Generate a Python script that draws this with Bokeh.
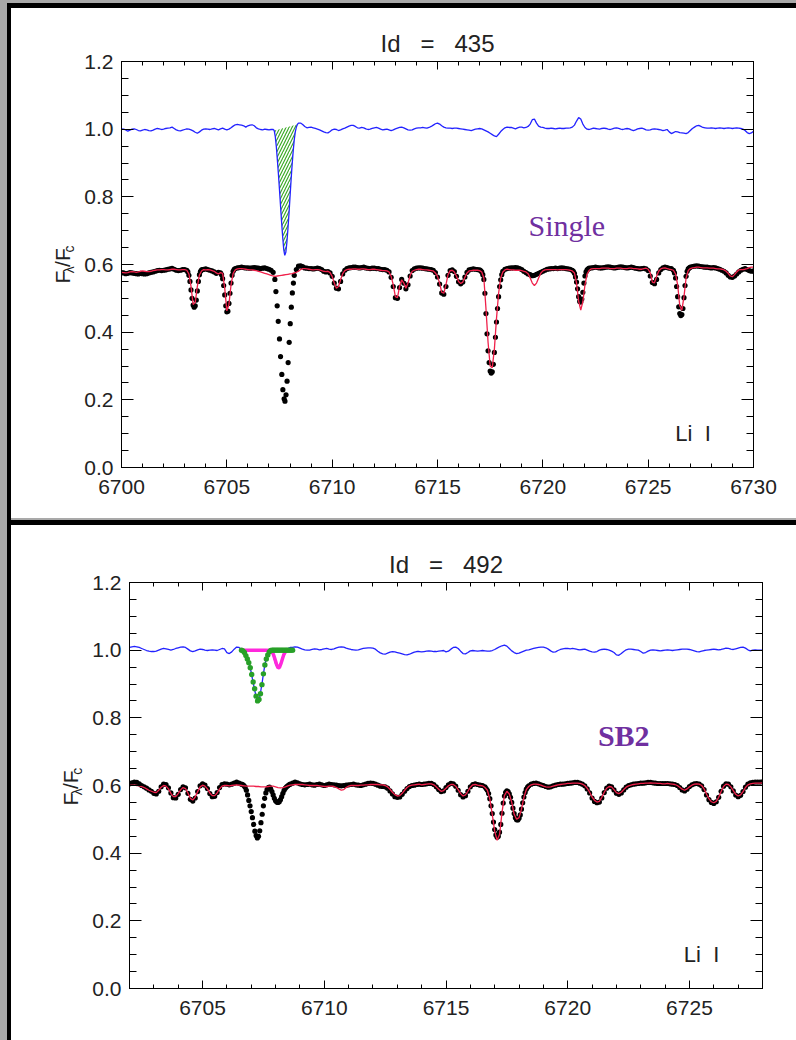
import numpy as np
from bokeh.plotting import figure
from bokeh.models import (Range1d, FixedTicker, LinearAxis, PrintfTickFormatter,
                          CustomJSTickFormatter, Label, Div)
from bokeh.layouts import row, column
from bokeh.embed import file_html
from bokeh.resources import INLINE

# ===================== DATA =====================
# ---------- Panel 1 : Id = 435 ----------
TOP_TITLE = "Id \u00a0\u00a0=\u00a0\u00a0 435"
TOP_CLASS = "Single"
TOP_XLIM = (6700.0, 6730.0)
TOP_XTICKS = [6700, 6705, 6710, 6715, 6720, 6725, 6730]

# synthetic template (red), 0.1 A sampling 6700.0 .. 6730.0
top_model = [
    0.577,0.576,0.575,0.576,0.578,0.579,0.578,0.577,0.578,0.580,
    0.581,0.580,0.579,0.579,0.580,0.582,0.583,0.584,0.584,0.585,
    0.585,0.584,0.584,0.585,0.586,0.586,0.585,0.584,0.584,0.585,
    0.585,0.583,0.572,0.535,0.482,0.488,0.535,0.569,0.581,0.585,
    0.584,0.585,0.584,0.582,0.580,0.575,0.572,0.576,0.574,0.530,
    0.463,0.482,0.540,0.574,0.584,0.587,0.588,0.588,0.587,0.586,
    0.585,0.584,0.584,0.583,0.582,0.580,0.578,0.576,0.574,0.572,
    0.570,0.568,0.566,0.565,0.566,0.567,0.568,0.569,0.570,0.571,
    0.572,0.573,0.575,0.577,0.580,0.585,0.588,0.588,0.587,0.586,
    0.585,0.584,0.585,0.585,0.584,0.582,0.580,0.579,0.580,0.576,
    0.565,0.545,0.530,0.535,0.555,0.573,0.582,0.585,0.586,0.586,
    0.587,0.587,0.586,0.586,0.587,0.587,0.586,0.585,0.585,0.586,
    0.586,0.585,0.584,0.583,0.582,0.582,0.581,0.578,0.565,0.540,
    0.505,0.502,0.535,0.555,0.545,0.530,0.545,0.568,0.580,0.583,
    0.585,0.586,0.586,0.585,0.584,0.584,0.583,0.582,0.581,0.575,
    0.565,0.545,0.518,0.515,0.540,0.570,0.582,0.583,0.578,0.565,
    0.550,0.544,0.548,0.562,0.575,0.581,0.582,0.583,0.583,0.583,
    0.582,0.578,0.560,0.470,0.370,0.300,0.295,0.350,0.440,0.515,
    0.560,0.578,0.584,0.586,0.585,0.584,0.584,0.583,0.583,0.583,
    0.582,0.580,0.578,0.573,0.560,0.545,0.538,0.545,0.560,0.574,
    0.581,0.584,0.585,0.585,0.585,0.585,0.585,0.584,0.585,0.585,
    0.585,0.585,0.584,0.583,0.581,0.575,0.545,0.492,0.465,0.490,
    0.540,0.572,0.583,0.587,0.588,0.588,0.588,0.588,0.589,0.589,
    0.589,0.589,0.588,0.588,0.588,0.589,0.589,0.589,0.588,0.588,
    0.588,0.589,0.589,0.588,0.588,0.587,0.586,0.586,0.588,0.589,
    0.586,0.575,0.548,0.546,0.565,0.580,0.587,0.589,0.590,0.588,
    0.586,0.585,0.583,0.572,0.540,0.478,0.465,0.505,0.560,0.582,
    0.588,0.590,0.591,0.592,0.592,0.591,0.590,0.590,0.590,0.589,
    0.589,0.589,0.588,0.587,0.587,0.586,0.584,0.580,0.574,0.566,
    0.564,0.570,0.578,0.584,0.585,0.585,0.586,0.588,0.591,0.592,
    0.592]

# observed spectrum (black dots), pieces with their own sampling
top_obs_a = [0.576,0.575,0.573,0.574,0.576,0.575,0.574,0.573,0.572,0.574,
             0.573,0.572,0.573,0.575,0.577,0.578,0.580,0.582,0.583,0.582,
             0.583,0.584,0.586,0.587,0.589,0.586,0.583,0.582,0.583,0.585,
             0.585,0.583]                                   # 6700.0-6703.1
top_obs_b = [0.578,0.568,0.550,0.525,0.500,0.480,0.474,0.478,0.495,0.522,
             0.550,0.570,0.580,0.584,0.585]                 # 6703.15-6703.85
top_obs_c = [0.586,0.587,0.585,0.583,0.581,0.578,0.574,0.577,0.575]  # 6703.9-6704.7
top_obs_d = [0.570,0.558,0.538,0.510,0.478,0.460,0.462,0.485,0.515,0.545,
             0.568,0.580,0.586]                             # 6704.75-6705.35
top_obs_e = [0.588,0.590,0.591,0.592,0.591,0.590,0.590,0.589,0.590,0.591,
             0.590,0.589,0.588,0.589,0.590,0.588,0.586,0.583,0.577]  # 6705.4-6707.2
top_li_wl = [6707.28,6707.33,6707.39,6707.44,6707.50,6707.55,6707.61,6707.66,6707.72,
             6707.76,6707.81,6707.86,6707.91,6707.96,6708.01,6708.06,6708.11,6708.16]
top_li_obs = [0.556,0.520,0.478,0.432,0.380,0.328,0.275,0.230,0.203,
              0.196,0.215,0.255,0.310,0.370,0.425,0.474,0.516,0.545]
top_obs_g = [0.568,0.585,0.595,0.596,0.594,0.590,0.589,0.588,
             0.588,0.587,0.588,0.589,0.588,0.585,0.580,0.578,0.579,0.575,
             0.565,0.545,0.530,0.528,0.550,0.572,0.583,0.588,0.590,0.591,
             0.592,0.592,0.591,0.590,0.591,0.592,0.590,0.589,0.588,0.589,
             0.589,0.588,0.588,0.586,0.585,0.585,0.583,0.578,0.562,0.535,
             0.502,0.500,0.532,0.556,0.545,0.528,0.540,0.566,0.582,0.587,
             0.589,0.590,0.590,0.589,0.588,0.587,0.586,0.585,0.583,0.576,
             0.563,0.542,0.516,0.512,0.535,0.568,0.582,0.584,0.579,0.565,
             0.549,0.543,0.548,0.563,0.577,0.584,0.586,0.587,0.586,0.585,
             0.584]                                         # 6708.2-6717.0
top_obs_h = [0.582,0.578,0.570,0.556,0.515,0.455,0.395,0.345,0.310,0.285,
             0.279,0.283,0.305,0.340,0.385,0.430,0.470,0.505,0.535,0.555,
             0.570,0.580]                                   # 6717.05-6718.10
top_obs_i = [0.586,0.588,0.589,0.590,0.590,0.591,0.590,0.588,
             0.585,0.580,0.576,0.572,0.570,0.567,0.568,0.571,0.574,0.577,
             0.580,0.583,0.586,0.587,0.588,0.588,0.589,0.588,0.589,0.590,
             0.589,0.588,0.587,0.586,0.583]                 # 6718.2-6721.4
top_obs_j = [0.580,0.574,0.563,0.548,0.528,0.505,0.491,0.489,0.498,0.518,
             0.545,0.566,0.578,0.584,0.587]                 # 6721.45-6722.15
top_obs_k = [0.589,0.590,0.591,0.592,0.591,0.590,0.590,0.591,
             0.592,0.593,0.592,0.591,0.590,0.591,0.592,0.593,0.592,0.591,
             0.590,0.591,0.592,0.591,0.589,0.588,0.587,0.588,0.589,0.587,
             0.582,0.566,0.547,0.543,0.556,0.575,0.585,0.590,0.592,0.591,
             0.589,0.588,0.583]                             # 6722.2-6726.2
top_obs_l = [0.575,0.560,0.535,0.505,0.475,0.455,0.449,0.452,0.470,0.502,
             0.538,0.565,0.580,0.587,0.590]                 # 6726.25-6726.95
top_obs_m = [0.592,0.594,0.595,0.596,0.595,0.594,0.593,0.592,0.592,0.591,
             0.590,0.591,0.590,0.588,0.586,0.583,0.580,0.575,0.568,0.563,
             0.562,0.566,0.572,0.578,0.583,0.586,0.588,0.585,0.582,0.580,
             0.581]                                         # 6727.0-6730.0

# residual spectrum (blue), observed - template + 1
top_diff_a = [1.001,1.000,0.998,0.994,0.997,1.000,1.001,0.999,0.996,0.995,
              0.997,0.999,0.998,0.996,0.995,0.997,1.000,1.002,1.001,0.999,
              1.000,1.002,1.003,1.004,1.006,1.002,0.998,0.996,0.995,0.997,
              0.999,1.001,1.000,0.998,0.995,0.991,0.988,0.992,0.997,1.000,
              1.001,1.000,0.999,1.001,1.002,1.000,0.998,1.001,1.003,1.000,
              0.998,1.000,1.004,1.009,1.013,1.014,1.013,1.012,1.010,1.006,
              1.010,1.012,1.013,1.010,1.004,1.001,0.999,0.998,1.000,0.999,
              0.998,0.999]                                  # 6700.0-6707.1
top_diff_li = [0.999,0.996,0.978,0.948,0.908,0.866,0.820,0.772,0.725,0.682,
               0.645,0.627,0.636,0.665,0.705,0.750,0.800,0.850,0.895,0.935,
               0.968,0.992,1.006,1.014,1.018]               # 6707.20-6708.40
top_diff_b = [1.018,1.014,1.008,1.004,1.005,
              1.006,1.004,1.002,1.000,0.998,0.995,0.992,0.990,0.989,0.993,
              0.998,1.000,0.999,0.996,0.998,1.001,1.003,1.006,1.009,1.011,
              1.011,1.008,1.004,1.003,1.005,1.004,1.001,0.999,1.000,1.002,
              1.004,1.005,1.003,1.000,0.998,0.999,1.000,0.998,0.996,0.998,
              1.001,1.003,1.005,1.006,1.004,1.001,0.998,0.997,0.998,1.001,
              1.003,1.004,1.004,1.005,1.004,1.003,1.005,1.008,1.012,1.016,
              1.018,1.015,1.010,1.006,1.004,1.003,1.003,1.002,1.003,1.003,
              1.002,1.001,1.000,0.999,0.998,0.997,0.996,0.998,1.000,1.001,
              1.002,1.001,0.998,0.995,0.992,0.988,0.984,0.980,0.978,0.985,
              0.993,0.999,1.004,1.006,1.005,1.005,1.003,1.001,1.004,1.006,
              1.006,1.004,1.005,1.008,1.015,1.028,1.030,1.018,1.009,1.006,
              1.005,1.003,1.002,1.002,1.003,1.002,1.001,1.002,1.003,1.002,
              1.002,1.003,1.003,1.004,1.006,1.012,1.024,1.034,1.030,1.015,
              1.005,1.000,0.999,1.001,1.003,1.002,1.001,1.000,1.002,1.003,
              1.002,1.000,0.999,1.001,1.003,1.004,1.002,1.000,0.999,1.001,
              1.002,1.001,0.998,0.996,0.998,1.001,1.002,1.003,1.001,0.998,
              0.997,0.998,1.000,1.001,1.000,0.999,0.998,0.996,0.997,0.999,
              0.992,0.987,0.990,0.993,0.992,0.990,0.989,0.988,0.987,0.990,
              0.996,1.002,1.006,1.010,1.011,1.008,1.005,1.004,1.003,1.003,
              1.004,1.003,1.002,1.003,1.004,1.003,1.002,1.003,1.004,1.003,
              1.002,1.003,1.004,1.003,1.002,1.000,0.996,0.990,0.987,0.989,
              0.994]                                        # 6708.5-6730.0
TOP_HATCH = (6707.24, 6708.36)   # Li I equivalent-width area

# ---------- Panel 2 : Id = 492 ----------
BOT_TITLE = "Id \u00a0\u00a0=\u00a0\u00a0 492"
BOT_CLASS = "SB2"
BOT_XLIM = (6702.0, 6728.0)
BOT_XTICKS = [6705, 6710, 6715, 6720, 6725]

bot_model = [
    0.600,0.601,0.601,0.600,0.599,0.597,0.594,0.590,0.586,0.583,
    0.580,0.579,0.586,0.595,0.600,0.598,0.590,0.577,0.567,0.567,
    0.576,0.587,0.594,0.591,0.578,0.562,0.557,0.566,0.582,0.596,
    0.601,0.598,0.590,0.578,0.570,0.570,0.578,0.590,0.598,0.600,
    0.600,0.599,0.600,0.601,0.602,0.601,0.600,0.599,0.598,0.598,
    0.598,0.598,0.597,0.597,0.596,0.596,0.596,0.597,0.598,0.598,
    0.596,0.594,0.593,0.594,0.596,0.599,0.601,0.602,0.603,0.603,
    0.603,0.603,0.602,0.601,0.600,0.600,0.600,0.600,0.599,0.598,
    0.597,0.597,0.598,0.598,0.597,0.594,0.590,0.586,0.588,0.594,
    0.598,0.600,0.600,0.600,0.600,0.601,0.601,0.602,0.602,0.603,
    0.603,0.603,0.603,0.602,0.602,0.600,0.596,0.589,0.580,0.573,
    0.569,0.570,0.577,0.586,0.594,0.599,0.601,0.602,0.603,0.604,
    0.602,0.603,0.604,0.605,0.605,0.602,0.596,0.589,0.583,0.585,
    0.592,0.599,0.603,0.603,0.598,0.588,0.576,0.569,0.572,0.583,
    0.595,0.602,0.603,0.601,0.600,0.599,0.594,0.586,0.560,0.515,
    0.465,0.438,0.455,0.520,0.570,0.583,0.575,0.550,0.515,0.500,
    0.505,0.530,0.565,0.588,0.597,0.602,0.604,0.604,0.603,0.601,
    0.598,0.596,0.595,0.596,0.598,0.600,0.602,0.603,0.604,0.605,
    0.606,0.606,0.607,0.607,0.607,0.606,0.604,0.600,0.592,0.580,
    0.566,0.556,0.551,0.553,0.565,0.580,0.592,0.597,0.596,0.588,
    0.579,0.576,0.580,0.588,0.595,0.599,0.601,0.603,0.604,0.605,
    0.606,0.606,0.607,0.607,0.608,0.607,0.607,0.606,0.606,0.605,
    0.605,0.606,0.605,0.604,0.603,0.600,0.595,0.589,0.586,0.590,
    0.596,0.601,0.604,0.605,0.604,0.600,0.590,0.575,0.561,0.552,
    0.549,0.553,0.565,0.582,0.597,0.604,0.603,0.596,0.585,0.574,
    0.569,0.572,0.582,0.594,0.602,0.605,0.606,0.607,0.607,0.607,
    0.608]                                                  # 6702.0-6728.0

bot_obs_a = [0.605,0.608,0.610,0.609,0.605,0.600,0.596,0.592,0.587,0.583,
             0.577,0.575,0.583,0.596,0.604,0.603,0.593,0.578,0.564,0.563,
             0.574,0.588,0.596,0.593,0.577,0.559,0.554,0.563,0.582,0.599,
             0.605,0.601,0.591,0.576,0.567,0.568,0.579,0.594,0.603,0.605,
             0.604,0.602,0.604,0.607,0.610,0.607,0.604]     # 6702.0-6706.6
bot_obs_b = [0.603,0.600,0.595,0.586,0.572,0.556,0.540,0.523,0.505,0.485,
             0.465,0.452,0.445,0.450,0.466,0.490,0.515,0.540,0.562,0.578,
             0.588,0.594,0.595,0.590,0.582,0.572,0.562,0.555,0.551,0.550,
             0.552,0.558,0.567,0.577,0.586,0.592,0.596,0.599,0.602,0.604]  # 6706.65-6708.60
bot_obs_c = [0.607,0.610,0.608,
             0.605,0.603,0.602,0.603,0.604,0.602,0.601,0.603,0.604,0.602,
             0.600,0.602,0.604,0.603,0.602,0.601,0.600,0.599,0.600,0.601,
             0.602,0.603,0.604,0.602,0.601,0.600,0.602,0.604,0.606,0.607,
             0.606,0.604,0.601,0.598,0.597,0.596,0.592,0.584,0.575,0.567,
             0.565,0.566,0.574,0.583,0.591,0.597,0.600,0.601,0.603,0.604,
             0.603,0.604,0.605,0.606,0.606,0.603,0.596,0.588,0.582,0.584,
             0.594,0.602,0.606,0.605,0.598,0.586,0.573,0.566,0.570,0.583,
             0.596,0.603,0.605,0.603,0.601,0.600,0.596]     # 6708.7-6716.6
bot_obs_d = [0.591,0.586,0.576,0.561,0.540,0.517,0.492,0.470,0.454,0.447,
             0.450,0.462,0.485,0.518,0.548,0.569,0.580,0.584,0.582,0.575,
             0.565,0.550,0.533,0.517,0.505,0.499,0.498,0.503,0.513,0.530,
             0.549,0.566,0.579,0.589,0.595,0.599]           # 6716.65-6718.40
bot_obs_e = [0.604,0.606,0.607,0.605,0.602,
             0.600,0.597,0.595,0.596,0.599,0.601,0.603,0.604,0.604,0.605,
             0.606,0.607,0.608,0.609,0.609,0.607,0.604,0.599,0.590,0.578,
             0.563,0.553,0.549,0.551,0.563,0.579,0.592,0.598,0.596,0.587,
             0.577,0.574,0.578,0.587,0.595,0.600,0.602,0.604,0.605,0.606,
             0.607,0.607,0.608,0.609,0.609,0.608,0.607,0.606,0.606,0.606,
             0.606,0.606,0.605,0.604,0.603,0.600,0.594,0.587,0.584,0.589,
             0.597,0.602,0.605,0.606,0.604,0.599,0.588,0.572,0.558,0.550,
             0.547,0.552,0.565,0.583,0.598,0.605,0.604,0.596,0.584,0.572,
             0.567,0.571,0.582,0.595,0.604,0.608,0.609,0.610,0.610,0.610,
             0.611]                                         # 6718.5-6728.0

bot_diff_a = [1.008,1.010,1.011,1.010,1.008,1.005,1.002,0.999,0.997,0.996,
              0.996,0.997,1.000,1.003,1.005,1.004,1.002,1.000,1.002,1.005,
              1.007,1.009,1.010,1.008,1.003,0.998,0.996,0.998,1.001,1.003,
              1.002,1.000,0.999,1.000,1.001,1.000,0.999,1.002,1.005,1.004,
              0.993,0.990,0.995,1.003,1.009,1.008,1.002]    # 6702.0-6706.6
bot_diff_li = [0.999,0.996,0.990,0.981,0.972,0.963,0.950,0.934,0.915,0.897,
               0.880,0.862,0.851,0.852,0.862,0.883,0.905,0.930,0.952,0.970,
               0.983,0.992,0.997,0.998,0.994,0.985,0.972,0.960,0.951,0.948,
               0.950,0.958,0.970,0.983,0.993,0.999,1.002,1.004,1.006,1.008]  # 6706.65-6708.60
bot_diff_b = [1.008,1.010,1.009,
              1.006,1.003,1.001,1.000,1.000,1.002,1.004,1.003,1.001,1.002,
              1.004,1.005,1.003,1.002,1.004,1.007,1.009,1.010,1.009,1.006,
              1.004,1.002,1.001,1.000,1.001,1.003,1.005,1.006,1.007,1.007,
              1.006,1.003,0.997,0.992,0.989,0.988,0.991,0.994,0.996,0.995,
              0.993,0.991,0.989,0.987,0.986,0.988,0.991,0.994,0.996,0.996,
              0.995,0.996,0.997,0.998,0.997,0.996,0.996,0.997,0.998,0.999,
              0.995,0.997,1.003,1.008,1.009,1.005,0.997,0.990,0.989,0.993,
              0.998,0.999,0.998,0.997,0.998,0.999,0.998,0.997,0.997,0.999,
              1.002,1.006,1.010,1.013,1.015,1.012,1.005,0.998,0.993,0.990,
              0.991,0.994,0.997,1.000,1.001,1.003,1.005,1.007,1.008,1.009,
              1.009,1.007,1.003,0.998,0.994,0.995,0.999,1.002,1.004,1.005,
              1.005,1.004,1.005,1.004,1.002,1.001,1.002,1.003,1.000,0.997,
              0.995,0.994,0.996,1.000,1.002,1.003,1.002,1.000,0.997,0.993,
              0.986,0.985,0.990,0.996,1.001,1.003,1.003,1.002,1.001,1.000,
              0.996,0.991,0.993,0.997,1.000,1.001,1.000,0.999,0.998,0.999,
              1.000,1.001,1.000,0.999,1.000,1.001,1.002,1.003,1.003,1.003,
              1.002,1.000,0.998,0.996,0.995,0.997,0.999,1.000,1.001,1.002,
              1.003,1.002,1.001,1.002,1.004,1.006,1.005,1.003,1.002,1.004,
              1.006,1.008,1.009,1.006,1.001,0.998,1.000,1.001,1.000,1.000,
              1.000]                                        # 6708.7-6728.0

# two-component Gaussian fit of the Li I line (SB2)
fit1_wl_range = (6706.60, 6708.70)
fit1 = [1.000,0.998,0.993,0.984,0.974,0.963,0.948,0.928,0.906,0.886,
        0.864,0.850,0.854,0.871,0.898,0.930,0.956,0.974,0.986,0.995,
        0.999,1.000,1.000,1.000,1.000,1.000,1.000,1.000,1.000,1.000,
        1.000,1.000,1.000,1.000,1.000,1.000]
fit2_wl = [6706.56,6707.10,6707.60,6707.80,6707.86,6707.92,6707.98,6708.04,6708.10,
           6708.16,6708.22,6708.28,6708.34,6708.40,6708.46,6708.52,6708.68]
fit2 = [1.000,1.000,1.000,0.999,0.995,0.986,0.972,0.958,0.948,
        0.949,0.960,0.974,0.987,0.995,0.999,1.000,1.000]

Y_TICKS = [0.0, 0.2, 0.4, 0.6, 0.8, 1.0, 1.2]
LINE_LABEL = "Li \u00a0I"
YLABEL_BIG = ["F", "/F"]
YLABEL_SUB = ["\u03bb", "c"]

# ===================== STYLE =====================
FONT = "Liberation Sans"
SERIF = "Liberation Serif"
TXT = "#222222"
C_OBS = "#000000"
C_MOD = "#f0204a"
C_RES = "#2222ff"
C_G1 = "#28a028"
C_G2 = "#ff28dc"
C_HATCH = "#3caa28"
C_PURPLE = "#7030a0"
GRAY = "#a9a9a9"
YL_W1 = 68         # width of the strips that carry the y-axis title
YL_W2 = 76


def build(pieces):
    xs, ys = [], []
    for a, b, vals in pieces:
        xs.append(np.linspace(a, b, len(vals)))
        ys.append(np.asarray(vals, dtype=float))
    return np.concatenate(xs), np.concatenate(ys)


def ylabel_strip(width, height, center_from_top, x_big):
    """narrow canvas (1 data unit = 1 px) holding the rotated F_lambda/F_c."""
    q = figure(width=width, height=height, output_backend="svg", toolbar_location=None,
               x_range=Range1d(0, width), y_range=Range1d(0, height),
               min_border=0, min_border_left=0, min_border_right=0,
               min_border_top=0, min_border_bottom=0)
    q.axis.visible = False
    q.grid.visible = False
    q.outline_line_color = None
    q.background_fill_color = "white"
    q.border_fill_color = "white"
    yc = height - center_from_top
    for txt, dy in zip(YLABEL_BIG, (-23, -2)):
        q.add_layout(Label(x=x_big, y=yc + dy, text=txt, angle=90, angle_units="deg",
                           text_font=FONT, text_font_size="21px", text_color=TXT,
                           text_align="left", text_baseline="alphabetic"))
    for txt, dy in zip(YLABEL_SUB, (-10, 16)):
        q.add_layout(Label(x=x_big + 6, y=yc + dy, text=txt, angle=90,
                           angle_units="deg", text_font=FONT, text_font_size="14px",
                           text_color=TXT, text_align="left",
                           text_baseline="alphabetic"))
    return q


def make_panel(width, height, bl, br, bt, bb, xlim, xticks, title, cls, cls_xy, cls_bold,
               li_xy):
    p = figure(width=width, height=height, output_backend="svg", toolbar_location=None,
               x_range=Range1d(*xlim), y_range=Range1d(0.0, 1.2),
               min_border_left=bl, min_border_right=br, min_border_top=bt,
               min_border_bottom=bb, title=title)
    p.title.align = "center"
    p.title.text_font = FONT
    p.title.text_font_size = "24px"
    p.title.text_font_style = "normal"
    p.title.text_color = TXT
    p.title.standoff = 10
    p.background_fill_color = "white"
    p.border_fill_color = "white"
    p.outline_line_color = "black"
    p.xgrid.visible = False
    p.ygrid.visible = False

    x0, x1 = int(round(xlim[0])), int(round(xlim[1]))
    xt = FixedTicker(ticks=xticks, minor_ticks=list(range(x0, x1 + 1)))
    yt = FixedTicker(ticks=Y_TICKS,
                     minor_ticks=[round(0.05 * i, 2) for i in range(0, 25)])
    blank = CustomJSTickFormatter(code="return ''")
    p.add_layout(LinearAxis(ticker=xt, formatter=blank, major_label_standoff=0), "above")
    p.add_layout(LinearAxis(ticker=yt, formatter=blank, major_label_standoff=0), "right")
    p.xaxis.ticker = xt
    p.yaxis.ticker = yt
    for ax in p.xaxis:
        ax.major_tick_in = 8
        ax.major_tick_out = 0
        ax.minor_tick_in = 4
        ax.minor_tick_out = 0
        ax.axis_line_color = "black"
        ax.major_tick_line_color = "black"
        ax.minor_tick_line_color = "black"
    for ax in p.yaxis:
        ax.major_tick_in = 12
        ax.major_tick_out = 0
        ax.minor_tick_in = 7
        ax.minor_tick_out = 0
        ax.axis_line_color = "black"
        ax.major_tick_line_color = "black"
        ax.minor_tick_line_color = "black"
    bx = p.below[0]
    bx.formatter = PrintfTickFormatter(format="%d")
    bx.major_label_text_font = FONT
    bx.major_label_text_font_size = "21px"
    bx.major_label_text_color = TXT
    bx.major_label_standoff = 12
    ly = p.left[0]
    ly.formatter = PrintfTickFormatter(format="%.1f")
    ly.major_label_text_font = FONT
    ly.major_label_text_font_size = "21px"
    ly.major_label_text_color = TXT
    ly.major_label_standoff = 8

    def lab(x, y, text, size, font=FONT, color=TXT, style="normal"):
        p.add_layout(Label(x=x, y=y, text=text, text_font=font,
                           text_font_size=f"{size}px", text_color=color,
                           text_align="left", text_baseline="alphabetic",
                           text_font_style=style))

    lab(cls_xy[0], cls_xy[1], cls, 30, font=SERIF, color=C_PURPLE,
        style="bold" if cls_bold else "normal")
    lab(li_xy[0], li_xy[1], LINE_LABEL, 22)
    return p


# ---------------- panel 1 ----------------
p1 = make_panel(785 - YL_W1, 510, 110 - YL_W1, 43, 53, 51, TOP_XLIM, TOP_XTICKS,
                TOP_TITLE, TOP_CLASS, (6719.32, 0.715), False, (6726.29, 0.1005))

t_mod_x = np.linspace(TOP_XLIM[0], TOP_XLIM[1], len(top_model))
t_obs_x, t_obs_y = build([
    (6700.0, 6703.1, top_obs_a), (6703.15, 6703.85, top_obs_b),
    (6703.9, 6704.7, top_obs_c), (6704.75, 6705.35, top_obs_d),
    (6705.4, 6707.2, top_obs_e), (top_li_wl[0], top_li_wl[-1], top_li_obs),
    (6708.2, 6717.0, top_obs_g), (6717.05, 6718.10, top_obs_h),
    (6718.2, 6721.4, top_obs_i), (6721.45, 6722.15, top_obs_j),
    (6722.2, 6726.2, top_obs_k), (6726.25, 6726.95, top_obs_l),
    (6727.0, 6730.0, top_obs_m)])
li_mask = (t_obs_x >= top_li_wl[0] - 1e-9) & (t_obs_x <= top_li_wl[-1] + 1e-9)
t_obs_x[li_mask] = np.array(top_li_wl)
t_res_x, t_res_y = build([(6700.0, 6707.1, top_diff_a), (6707.20, 6708.40, top_diff_li),
                          (6708.5, 6730.0, top_diff_b)])

hm = (t_res_x >= TOP_HATCH[0]) & (t_res_x <= TOP_HATCH[1])
hx = t_res_x[hm]
hy = t_res_y[hm]
hy2 = np.linspace(hy[0], hy[-1], len(hy))
p1.varea(x=hx, y1=hy, y2=hy2, fill_alpha=0, hatch_pattern="/", hatch_color=C_HATCH,
         hatch_weight=1.2, hatch_scale=6)
p1.line(t_res_x, t_res_y, line_color=C_RES, line_width=1.3)
p1.scatter(t_obs_x, t_obs_y, size=5.2, fill_color=C_OBS, line_color=None)
p1.line(t_mod_x, top_model, line_color=C_MOD, line_width=1.3)

# ---------------- panel 2 ----------------
p2 = make_panel(785 - YL_W2, 515, 118 - YL_W2, 34, 57, 52, BOT_XLIM, BOT_XTICKS,
                BOT_TITLE, BOT_CLASS, (6721.24, 0.748), True, (6724.77, 0.1005))

b_mod_x = np.linspace(BOT_XLIM[0], BOT_XLIM[1], len(bot_model))
b_obs_x, b_obs_y = build([
    (6702.0, 6706.6, bot_obs_a), (6706.65, 6708.60, bot_obs_b),
    (6708.7, 6716.6, bot_obs_c), (6716.65, 6718.40, bot_obs_d),
    (6718.5, 6728.0, bot_obs_e)])
b_res_x, b_res_y = build([(6702.0, 6706.6, bot_diff_a), (6706.65, 6708.60, bot_diff_li),
                          (6708.7, 6728.0, bot_diff_b)])
g1_x = np.linspace(fit1_wl_range[0], fit1_wl_range[1], len(fit1))

p2.scatter(b_obs_x, b_obs_y, size=5.2, fill_color=C_OBS, line_color=None)
p2.line(b_mod_x, bot_model, line_color=C_MOD, line_width=1.3)
p2.line(b_res_x, b_res_y, line_color=C_RES, line_width=1.3)
p2.line(fit2_wl, fit2, line_color=C_G2, line_width=3.5)
p2.scatter(g1_x, fit1, size=5.4, fill_color=C_G1, line_color=None)

yl1 = ylabel_strip(YL_W1, 510, 264 - 8, 51)
yl2 = ylabel_strip(YL_W2, 515, 785 - 525, 59)

# ---------------- page frame ----------------
def block(w, h, color):
    return Div(text="", width=w, height=h, margin=0,
               styles={"background-color": color})

left = row(block(7, 1040, GRAY), column(block(4, 3, GRAY), block(4, 1037, "#000000")))
right = column(block(785, 3, GRAY), block(785, 5, "#000000"), row(yl1, p1),
               block(785, 2, GRAY), block(785, 5, "#000000"), row(yl2, p2))
page = row(left, right)

open("out.html", "w").write(file_html(page, INLINE, title="Li I spectra"))
